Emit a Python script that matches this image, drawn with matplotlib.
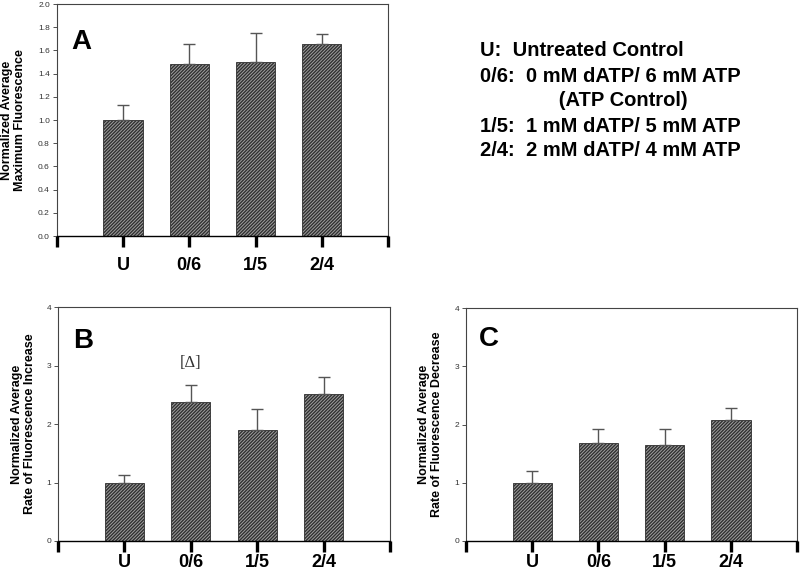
import matplotlib
matplotlib.use('Agg')
import matplotlib.pyplot as plt
import numpy as np

# Data
groups = ['U', '0/6', '1/5', '2/4']

max_fluor = [1.00, 1.48, 1.50, 1.655]
max_fluor_err = [0.13, 0.175, 0.25, 0.085]

rate_increase = [0.99, 2.37, 1.89, 2.52]
rate_increase_err = [0.13, 0.30, 0.37, 0.28]

rate_decrease = [1.00, 1.68, 1.64, 2.07]
rate_decrease_err = [0.20, 0.24, 0.29, 0.21]

legend_lines = ['U:  Untreated Control',
                '0/6:  0 mM dATP/ 6 mM ATP',
                '              (ATP Control)',
                '1/5:  1 mM dATP/ 5 mM ATP',
                '2/4:  2 mM dATP/ 4 mM ATP']

plt.rcParams['font.family'] = ['Liberation Sans', 'DejaVu Sans']
plt.rcParams['hatch.linewidth'] = 1.0
plt.rcParams['hatch.color'] = '#101010'


def draw_panel(ax, values, errs, ymax, yticks, yfmt, ylabel, letter, letter_xy,
               label_x, xpad):
    x = np.arange(1, len(values) + 1)
    ax.bar(x, values, width=0.59, color='#a0a0a0', edgecolor='#303030',
           linewidth=0.6, hatch='/' * 10, zorder=2)
    ax.errorbar(x, values, yerr=[np.zeros(len(errs)), errs], fmt='none',
                ecolor='#555555', elinewidth=1.0, capsize=4, capthick=1.0, zorder=3)

    ax.set_xlim(0, 5)
    ax.set_ylim(0, ymax)
    ax.set_xticks(np.arange(0, 6))
    ax.set_xticklabels([''] + groups + [''], fontsize=13, fontweight='bold')
    ax.tick_params(axis='x', direction='out', length=8, width=2.4, pad=xpad,
                   color='black')
    ax.set_yticks(yticks)
    ax.set_yticklabels([yfmt.format(v) for v in yticks], fontsize=6, color='#333333')
    ax.tick_params(axis='y', direction='out', length=3, width=0.6, pad=2,
                   color='#333333')
    for side in ['top', 'right', 'left']:
        ax.spines[side].set_color('#444444')
        ax.spines[side].set_linewidth(0.8)
    ax.spines['bottom'].set_color('black')
    ax.spines['bottom'].set_linewidth(1.0)

    ax.set_ylabel(ylabel, fontsize=9, fontweight='bold', linespacing=1.1)
    ax.yaxis.set_label_coords(label_x, 0.5)
    ax.text(letter_xy[0], letter_xy[1], letter, transform=ax.transAxes,
            fontsize=20, fontweight='bold', ha='left', va='center')


fig = plt.figure(figsize=(8, 5.72), dpi=100)

ax_a = fig.add_axes([0.071, 0.5874, 0.414, 0.4056])
draw_panel(ax_a, max_fluor, max_fluor_err, 2.0, np.arange(0, 2.01, 0.2), '{:.1f}',
           'Normalized Average\nMaximum Fluorescence', 'A', (0.045, 0.836), -0.094, 7)

ax_b = fig.add_axes([0.0725, 0.0542, 0.415, 0.409])
draw_panel(ax_b, rate_increase, rate_increase_err, 4, np.arange(0, 5, 1), '{:.0f}',
           'Normalized Average\nRate of Fluorescence Increase', 'B', (0.045, 0.855), -0.066, 1.5)
ax_b.text(2, 3.04, '[\u0394]', fontsize=12, family=['Liberation Serif', 'DejaVu Serif'],
          color='#333333', ha='center', va='center')

ax_c = fig.add_axes([0.5825, 0.0542, 0.414, 0.4073])
draw_panel(ax_c, rate_decrease, rate_decrease_err, 4, np.arange(0, 5, 1), '{:.0f}',
           'Normalized Average\nRate of Fluorescence Decrease', 'C', (0.04, 0.867), -0.07, 1.5)

# Legend text block
for i, line in enumerate(legend_lines):
    fig.text(480 / 800, 1 - (51 + 25 * i) / 572, line, fontsize=14.5,
             fontweight='bold', ha='left', va='center')

fig.savefig('out.png', dpi=100)
